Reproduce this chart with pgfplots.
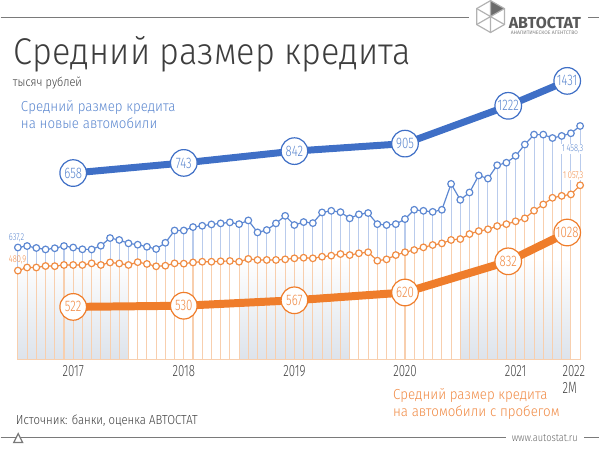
\documentclass[border=0pt]{standalone}
\usepackage{pgfplots}
\pgfplotsset{compat=1.18}
\usepackage{pgfplotstable}
\usepackage{fontspec}
\setmainfont{Fira Sans}
\newfontfamily\ftitle{Fira Sans Light}[FakeStretch=0.92]
\newfontfamily\fnum{Fira Sans Light}[FakeStretch=0.75]
\newfontfamily\fyear{Fira Sans Light}[FakeStretch=0.70]
\newfontfamily\ftext{Fira Sans Light}[FakeStretch=0.87]
\newfontfamily\fbold{Fira Sans}

\definecolor{bthick}{HTML}{3F6FC6}
\definecolor{bline}{HTML}{5D88D2}
\definecolor{btext}{HTML}{5B87CF}
\definecolor{bdrop}{HTML}{B9CBEC}
\definecolor{othick}{HTML}{EF7D2B}
\definecolor{oline}{HTML}{F08C43}
\definecolor{otext}{HTML}{F08A44}
\definecolor{odrop}{HTML}{F8CFAE}
\definecolor{shadeC}{HTML}{DDE3EB}
\definecolor{tgray}{HTML}{3D3D3D}
\definecolor{ygray}{HTML}{444444}
\definecolor{lgray}{HTML}{7A7A7A}

\pgfplotstableread{
i b o
0 637.2 480.9
1 647 502
2 634 502
3 624 512
4 632 511
5 647 519
6 637 519
7 625 519
8 624 530
9 649 519
10 701 536
11 688 529
12 665 519
13 656 538
14 642 526
15 627 510
16 669 514
17 752 530
18 752 528
19 775 536
20 784 541
21 793 541
22 800 544
23 807 546
24 795 541
25 820 560
26 739 553
27 755 553
28 800 553
29 851 557
30 789 564
31 809 568
32 802 564
33 874 575
34 885 582
35 876 593
36 834 586
37 861 598
38 870 605
39 795 548
40 789 557
41 795 586
42 829 605
43 892 620
44 885 638
45 878 654
46 892 665
47 1067 688
48 959 694
49 1009 728
50 1124 748
51 1103 760
52 1193 782
53 1210 795
54 1256 814
55 1333 834
56 1400 886
57 1400 928
58 1377 973
59 1391 986
60 1409 996
61 1458.3 1057.3
}\monthly

\pgfplotsset{
  frame/.style={at={(12.9pt,-270pt)}, anchor=south west, scale only axis,
    width=422.7pt, height=225pt, xmin=0, xmax=61, clip=false},
  thickline/.style={line width=#1, line cap=round, line join=round,
    nodes near coords, point meta=y,
    /pgf/number format/assume math mode=true, /pgf/number format/1000 sep={}},
}

\begin{document}
\begin{tikzpicture}
\begin{scope}[x=0.75pt,y=-0.75pt]
\path[use as bounding box] (0,0) rectangle (600,449);
\end{scope}

% background year shading
\begin{axis}[frame, hide axis, ymin=-121.3, ymax=1901.04]
\shade[bottom color=shadeC, top color=white] (axis cs:0,-121.3) rectangle (axis cs:12,560);
\shade[bottom color=shadeC, top color=white] (axis cs:24,-121.3) rectangle (axis cs:36,560);
\shade[bottom color=shadeC, top color=white] (axis cs:48,-121.3) rectangle (axis cs:60,560);
\end{axis}

% monthly series
\begin{axis}[frame, ymin=-121.3, ymax=1901.04,
  axis x line*=bottom, axis y line=none,
  x axis line style={draw=odrop, line width=1pt, -},
  xtick=\empty, ytick=\empty]
\addplot[bdrop, only marks, mark=none,
  error bars/.cd, y dir=minus, y explicit, error mark=none,
  error bar style={draw=bdrop, line width=0.8pt}]
  table[x=i, y=b, y error minus expr=\thisrow{b}+121.3] {\monthly};
\addplot[odrop, only marks, mark=none,
  error bars/.cd, y dir=minus, y explicit, error mark=none,
  error bar style={draw=odrop, line width=0.8pt}]
  table[x=i, y=o, y error minus expr=\thisrow{o}+121.3] {\monthly};
\addplot[bline, line width=0.9pt, mark=*, mark size=2.5pt,
  mark options={fill=white, draw=bline, line width=0.9pt, solid}]
  table[x=i, y=b] {\monthly};
\addplot[oline, line width=0.9pt, mark=*, mark size=2.5pt,
  mark options={fill=white, draw=oline, line width=0.9pt, solid}]
  table[x=i, y=o] {\monthly};
\foreach \yy/\xx in {2017/6, 2018/18, 2019/30, 2020/42, 2021/54}{
  \edef\tmp{\noexpand\node[anchor=base, inner sep=0pt, text=ygray,
    font=\noexpand\fyear\noexpand\fontsize{12.3}{13}\noexpand\selectfont]
    at ([yshift=-12.75pt]axis cs:\xx,-121.3) {\yy};}\tmp
}
\node[anchor=base west, inner sep=0pt, text=ygray, font=\fyear\fontsize{12.3}{13}\selectfont]
  at ([yshift=-12.75pt]axis cs:59.07,-121.3) {2022};
\node[anchor=base west, inner sep=0pt, text=ygray, font=\fyear\fontsize{12.3}{13}\selectfont]
  at ([yshift=-25.5pt]axis cs:59.07,-121.3) {2M};
\end{axis}

% annual, new cars
\begin{axis}[frame, hide axis, ymin=-907.9, ymax=1602.5]
\addplot[bthick, thickline=5.25pt,
  every node near coord/.append style={circle, draw=bthick, line width=0.9pt,
    fill=white, minimum size=20pt, inner sep=0pt, anchor=center, text=btext,
    font=\fnum\fontsize{11.5}{11.5}\selectfont}]
  coordinates {(6,658) (18,743) (30,842) (42,905) (53.2,1222) (59.6,1431)};
\end{axis}

% annual, used cars
\begin{axis}[frame, hide axis, ymin=162.8, ymax=2198.1]
\addplot[othick, thickline=6pt,
  every node near coord/.append style={circle, draw=othick, line width=0.9pt,
    fill=white, minimum size=20pt, inner sep=0pt, anchor=center, text=otext,
    font=\fnum\fontsize{11.5}{11.5}\selectfont}]
  coordinates {(6,522) (18,530) (30,567) (42,620) (53.2,832) (59.6,1028)};
\end{axis}

\begin{scope}[x=0.75pt,y=-0.75pt]
% top rule and logo
\draw[lgray, line width=1.1pt] (0,17) -- (469,17);
\draw[lgray, line width=1.1pt] (589,17) -- (600,17);
\begin{scope}[shift={(491,16)}]
  \fill[gray!85!black] (0,0) -- (0,-16) -- (13.9,-8) -- cycle;
  \draw[gray!60, line width=0.9pt] (0,-16) -- (13.9,-8) -- (13.9,8) -- (0,16) -- (-13.9,8) -- (-13.9,-8) -- cycle;
  \draw[gray!60, line width=0.9pt] (0,-16) -- (0,16) (13.9,-8) -- (-13.9,8) (13.9,8) -- (-13.9,-8);
\end{scope}
\node[anchor=base west, inner sep=0pt, text=gray!70!black, font=\fbold\bfseries\fontsize{12}{12}\selectfont] at (509,28) {АВТОСТАТ};
\node[anchor=base west, inner sep=0pt, text=gray, font=\fbold\fontsize{3.8}{4}\selectfont] at (511,34) {АНАЛИТИЧЕСКОЕ АГЕНТСТВО};

% title
\node[anchor=base west, inner sep=0pt, text=tgray, font=\ftitle\fontsize{28}{28}\selectfont] at (13,64) {Средний размер кредита};
\node[anchor=base west, inner sep=0pt, text=tgray, font=\ftext\fontsize{9.5}{10}\selectfont] at (12,86) {тысяч рублей};

% series labels
\node[anchor=base west, inner sep=0pt, text=btext, font=\ftitle\fontsize{10.9}{11}\selectfont] at (20,111.5) {Средний размер кредита};
\node[anchor=base west, inner sep=0pt, text=btext, font=\ftitle\fontsize{10.9}{11}\selectfont] at (20,128.5) {на новые автомобили};
\node[anchor=base west, inner sep=0pt, text=otext, font=\ftitle\fontsize{10.9}{11}\selectfont] at (393,400) {Средний размер кредита};
\node[anchor=base west, inner sep=0pt, text=otext, font=\ftitle\fontsize{10.9}{11}\selectfont] at (393,417) {на автомобили с пробегом};

% value labels
\node[anchor=base west, inner sep=0pt, text=btext, font=\fnum\fontsize{7.5}{8}\selectfont] at (8,240) {637,2};
\node[anchor=base west, inner sep=0pt, text=otext, font=\fnum\fontsize{7.5}{8}\selectfont] at (8,263) {480,9};
\node[anchor=base east, fill=white, inner sep=0.6pt, text=btext, font=\fnum\fontsize{7.5}{8}\selectfont] at (585,151) {1\,458,3};
\node[anchor=base east, fill=white, inner sep=0.6pt, text=otext, font=\fnum\fontsize{7.5}{8}\selectfont] at (585,178) {1\,057,3};

% footer
\node[anchor=base west, inner sep=0pt, text=tgray, font=\ftext\fontsize{9.8}{10}\selectfont] at (15,424.5) {Источник: банки, оценка АВТОСТАТ};
\draw[lgray, line width=1.1pt] (0,438) -- (506,438);
\draw[lgray, line width=1.1pt] (585,438) -- (600,438);
\draw[lgray, line width=0.9pt, fill=white] (13,443) -- (17.5,434) -- (22,443) -- cycle;
\node[anchor=base west, inner sep=0pt, text=gray!80!black, font=\ftext\fontsize{8}{8}\selectfont] at (512,441.5) {www.autostat.ru};
\end{scope}
\end{tikzpicture}
\end{document}
